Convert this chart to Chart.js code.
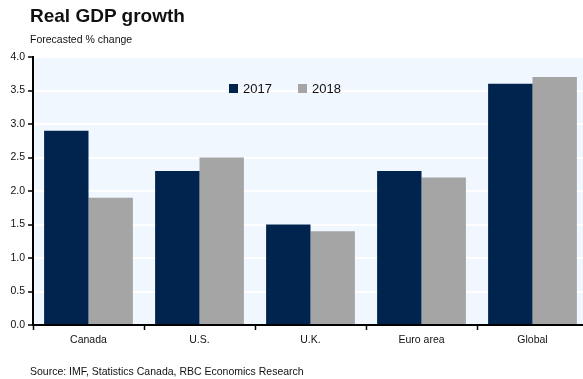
<!DOCTYPE html>
<html>
<head>
<meta charset="utf-8">
<script src="https://cdn.jsdelivr.net/npm/chart.js@4.4.0/dist/chart.umd.min.js"></script>
<style>
  html, body { margin: 0; padding: 0; overflow: hidden; background: #fff; }
  body { width: 583px; height: 379px; position: relative; font-family: "Liberation Sans", Arial, sans-serif; }
  #wrap { position: absolute; left: 0; top: 0; width: 600px; height: 379px; }
  .title { position: absolute; left: 30px; top: 5px; font-size: 19px; font-weight: bold; color: #111; }
  .sub { position: absolute; left: 30px; top: 33px; font-size: 10.5px; color: #111; }
  .src { position: absolute; left: 30px; top: 365px; font-size: 10.5px; color: #111; }
</style>
</head>
<body>
<div id="wrap"><canvas id="gdpChart" width="600" height="379"></canvas></div>
<div class="title">Real GDP growth</div>
<div class="sub">Forecasted % change</div>
<div class="src">Source: IMF, Statistics Canada, RBC Economics Research</div>
<script>
const regions = ['Canada', 'U.S.', 'U.K.', 'Euro area', 'Global'];
const growth2017 = [2.9, 2.3, 1.5, 2.3, 3.6];
const growth2018 = [1.9, 2.5, 1.4, 2.2, 3.7];
const seriesNames = ['2017', '2018'];

const navy = '#00244E';
const grey = '#A5A5A5';

// light blue plot background
const plotBg = {
  id: 'plotBg',
  beforeDraw(chart) {
    const a = chart.chartArea;
    const ctx = chart.ctx;
    ctx.save();
    ctx.fillStyle = '#F0F7FF';
    ctx.fillRect(a.left, a.top, a.right - a.left, a.bottom - a.top);
    ctx.restore();
  }
};

// legend drawn inside the plot, like the original
const innerLegend = {
  id: 'innerLegend',
  afterDatasetsDraw(chart) {
    const ctx = chart.ctx;
    const a = chart.chartArea;
    let x = a.left + 196;
    const y = a.top + 31;
    ctx.save();
    ctx.font = '13px "Liberation Sans", Arial, sans-serif';
    ctx.textBaseline = 'middle';
    chart.data.datasets.forEach(ds => {
      ctx.fillStyle = ds.backgroundColor;
      ctx.fillRect(x, y - 4, 9, 9);
      ctx.fillStyle = '#111';
      ctx.fillText(ds.label, x + 14, y + 1);
      x += 69;
    });
    ctx.restore();
  }
};

const ctx = document.getElementById('gdpChart').getContext('2d');
const gdpChart = new Chart(ctx, {
  type: 'bar',
  data: {
    labels: regions,
    datasets: [
      { label: seriesNames[0], data: growth2017, backgroundColor: navy },
      { label: seriesNames[1], data: growth2018, backgroundColor: grey }
    ]
  },
  options: {
    responsive: false,
    animation: false,
    categoryPercentage: 0.8,
    barPercentage: 1.0,
    layout: { padding: { left: 0, top: 57, right: 12, bottom: 34 } },
    plugins: {
      legend: { display: false },
      tooltip: { enabled: false }
    },
    scales: {
      x: {
        grid: {
          offset: true,
          drawOnChartArea: false,
          tickColor: '#000',
          tickLength: 5,
          tickWidth: 1.5
        },
        border: { color: '#000', width: 2 },
        ticks: {
          color: '#111',
          font: { size: 10.5, family: '"Liberation Sans", Arial, sans-serif' },
          padding: 4
        },
        afterFit(scale) { scale.height = 20; }
      },
      y: {
        min: 0,
        max: 4,
        ticks: {
          stepSize: 0.5,
          color: '#111',
          font: { size: 10.5, family: '"Liberation Sans", Arial, sans-serif' },
          padding: 3,
          callback: v => v.toFixed(1)
        },
        grid: {
          color: '#ffffff',
          lineWidth: 2,
          tickColor: '#000',
          tickLength: 5,
          tickWidth: 1.5
        },
        border: { color: '#000', width: 2 },
        afterFit(scale) { scale.width = 33; }
      }
    }
  },
  plugins: [plotBg, innerLegend]
});
</script>
</body>
</html>
